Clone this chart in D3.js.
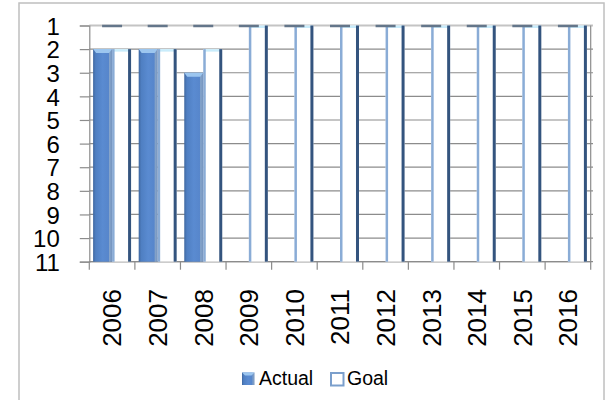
<!DOCTYPE html>
<html>
<head>
<meta charset="utf-8">
<script src="https://cdn.jsdelivr.net/npm/d3@7"></script>
<style>
html,body{margin:0;padding:0;background:#fff;}
svg{display:block;}
text{font-family:"Liberation Sans",Arial,sans-serif;fill:#000;}
</style>
</head>
<body>
<svg id="chart" width="608" height="400"></svg>
<script>
const years = ["2006","2007","2008","2009","2010","2011","2012","2013","2014","2015","2016"];
const actual = [2, 2, 3, null, null, null, null, null, null, null, null];
const goal = [2, 2, 2, 1, 1, 1, 1, 1, 1, 1, 1];
const yTicks = [1,2,3,4,5,6,7,8,9,10,11];
const seriesNames = ["Actual","Goal"];

const svg = d3.select("#chart");
const defs = svg.append("defs");
const g1 = defs.append("linearGradient").attr("id","actGrad").attr("x1","0").attr("x2","1").attr("y1","0").attr("y2","0");
[[0,"#3f679f"],[0.14,"#4f7fc2"],[0.5,"#5a8bd1"],[0.82,"#5786cb"],[0.86,"#86a4c9"],[1,"#7393bf"]].forEach(s=>g1.append("stop").attr("offset",s[0]).attr("stop-color",s[1]));

// chart area border
svg.append("rect").attr("x",19).attr("y",3).attr("width",585).attr("height",405)
  .attr("fill","#fff").attr("stroke","#bfbfbf").attr("stroke-width",1.5);

const x = d3.scaleBand().domain(years).range([89.3, 590.7]).paddingInner(0).paddingOuter(0);
const xs = d3.scaleBand().domain(seriesNames).range([0, x.bandwidth()]).paddingInner(0).paddingOuter(0.2);
const y = d3.scaleLinear().domain([1, 11]).range([25.5, 261.7]);

// gridlines
svg.append("g").selectAll("line").data(yTicks).join("line")
  .attr("x1", 89.3).attr("x2", 593)
  .attr("y1", d => y(d)).attr("y2", d => y(d))
  .attr("stroke", d => d === 1 ? "#c4c4c4" : "#8c8c8c")
  .attr("stroke-width", d => d === 1 ? 2 : 1.2);

// right plot line
svg.append("line").attr("x1",590.7).attr("x2",590.7).attr("y1",y(1)).attr("y2",y(11))
  .attr("stroke","#8c8c8c").attr("stroke-width",1.2);

// y axis
const yAxis = d3.axisLeft(y).tickValues(yTicks).tickSize(9.5).tickPadding(20).tickFormat(d3.format("d"));
const ya = svg.append("g").attr("transform","translate(89.3,0)").call(yAxis);
ya.select(".domain").attr("stroke","#8c8c8c").attr("stroke-width",1.2);
ya.selectAll(".tick line").attr("stroke","#8c8c8c").attr("stroke-width",1.2);
ya.selectAll(".tick text").attr("font-size",24).attr("font-family","Liberation Sans, Arial, sans-serif").attr("dy","0.36em").attr("fill","#000");

// x axis
const xa = svg.append("g").attr("transform",`translate(0,${y(11)})`);
const bounds = years.map(d => x(d)).concat([x(years[years.length-1]) + x.bandwidth()]);
xa.selectAll("line.tk").data(bounds).join("line").attr("class","tk")
  .attr("x1", d=>d).attr("x2", d=>d).attr("y1",0).attr("y2",8)
  .attr("stroke","#8c8c8c").attr("stroke-width",1.2);
xa.append("line").attr("x1",89.3).attr("x2",590.7).attr("y1",0).attr("y2",0).attr("stroke","#8c8c8c").attr("stroke-width",1.2);
xa.selectAll("text").data(years).join("text")
  .attr("transform", d => `translate(${x(d) + x.bandwidth()/2},${289 - y(11)}) rotate(-90)`)
  .attr("text-anchor","end").attr("dy","0.36em").attr("font-size",26).text(d => d);

// Goal bars
const goalData = years.map((d,i)=>({year:d, v:goal[i]})).filter(d=>d.v!=null);
const gg = svg.append("g").selectAll("g").data(goalData).join("g")
  .attr("transform", d => `translate(${x(d.year) + xs("Goal")},0)`);
gg.append("rect").attr("x",0).attr("width",xs.bandwidth())
  .attr("y", d=>y(d.v)).attr("height", d=>y(11)-y(d.v)).attr("fill","#fff");
gg.append("rect").attr("x",0.5).attr("width",xs.bandwidth()-1)
  .attr("y", d=>y(d.v)).attr("height", 2.5).attr("fill","#c9ecfb");
gg.append("rect").attr("x",0).attr("width",2.5)
  .attr("y", d=>y(d.v)).attr("height", d=>y(11)-y(d.v)).attr("fill","#8aacd6");
gg.append("rect").attr("x",xs.bandwidth()-3).attr("width",3)
  .attr("y", d=>y(d.v)).attr("height", d=>y(11)-y(d.v)).attr("fill","#34547e");

// Actual bars
const actData = years.map((d,i)=>({year:d, v:actual[i]})).filter(d=>d.v!=null);
const ag = svg.append("g").selectAll("g").data(actData).join("g")
  .attr("transform", d => `translate(${x(d.year) + xs("Actual")},0)`);
ag.append("rect").attr("x",0).attr("width",xs.bandwidth())
  .attr("y", d=>y(d.v)).attr("height", d=>y(11)-y(d.v)).attr("fill","url(#actGrad)");
ag.append("polygon").attr("points", d => {
  const w = xs.bandwidth(), t = y(d.v);
  return `0,${t} ${w},${t} ${w-3},${t+4} 3,${t+4}`;
}).attr("fill","#9cc6ef");

// top dashes at value 1 per category
svg.append("g").selectAll("line").data(years).join("line")
  .attr("x1", d => x(d) + x.bandwidth()/2 - 10)
  .attr("x2", d => x(d) + x.bandwidth()/2 + 10)
  .attr("y1", y(1)+0.5).attr("y2", y(1)+0.5)
  .attr("stroke","#64768a").attr("stroke-width",2.5);

// legend
const leg = svg.append("g");
leg.append("rect").attr("x",242).attr("y",372.5).attr("width",12.5).attr("height",12.5).attr("fill","url(#actGrad)");
leg.append("polygon").attr("points","242,372.5 254.5,372.5 251.5,375.5 245,375.5").attr("fill","#9cc6ef");
leg.append("text").attr("x",259).attr("y",385).attr("font-size",19.5).text(seriesNames[0]);
leg.append("rect").attr("x",331).attr("y",373).attr("width",12.5).attr("height",12.5)
  .attr("fill","#fff").attr("stroke","#7b9fcc").attr("stroke-width",2);
leg.append("text").attr("x",347).attr("y",385).attr("font-size",19.5).text(seriesNames[1]);
</script>
</body>
</html>
